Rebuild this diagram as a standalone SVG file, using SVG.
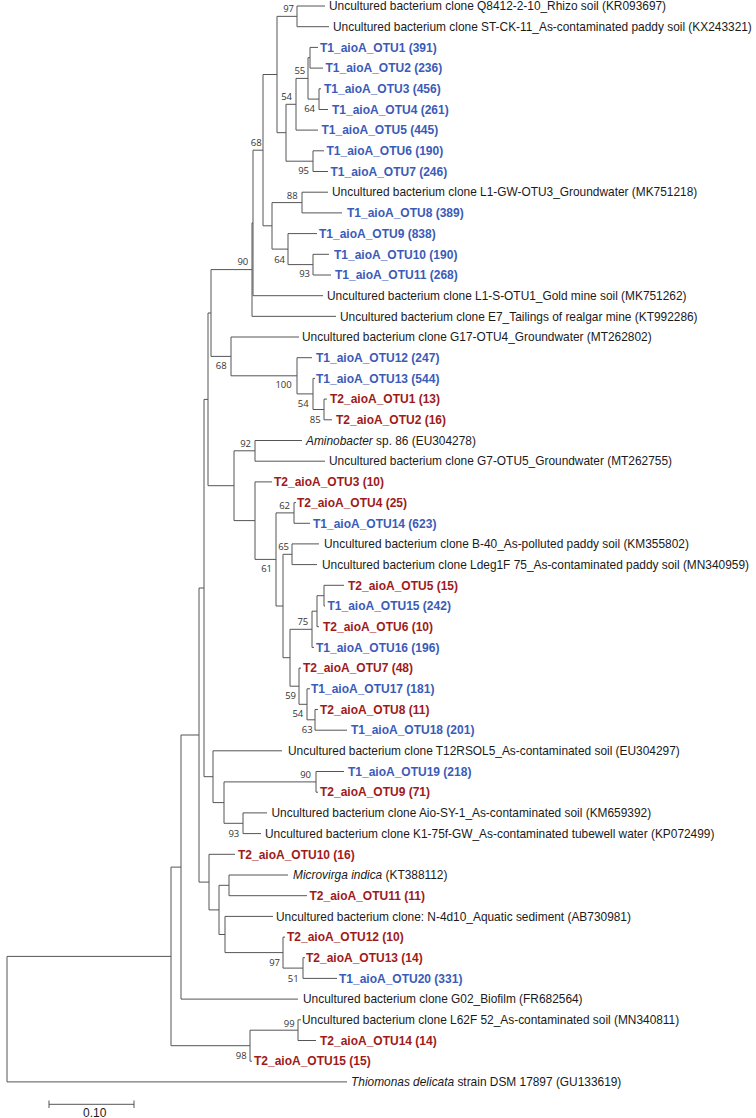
<svg xmlns="http://www.w3.org/2000/svg" width="756" height="1118" viewBox="0 0 756 1118">
<style>
.lab{font-family:"Liberation Sans",Arial,sans-serif;font-size:11.9px;fill:#1a1a1a}
.t1{font-family:"Liberation Sans",Arial,sans-serif;font-size:12px;font-weight:bold;fill:#3b5bb8}
.t2{font-family:"Liberation Sans",Arial,sans-serif;font-size:12px;font-weight:bold;fill:#9e1b1b}
.it{font-style:italic}
.bs{font-family:"Open Sans","Liberation Sans",sans-serif;font-size:9.5px;fill:#333;text-anchor:end}
.br{fill:none;stroke:#555;stroke-width:1}
</style>
<rect x="0" y="0" width="756" height="1118" fill="#fff"/>
<g id="connectors" class="br">
<path d="M7 956.4V1081.9M7 956.4H171M7 1081.9H347"/>
<path d="M171 867.1V1045.7M171 867.1H181M171 1045.7H250"/>
<path d="M250 1030.2V1061.2M250 1030.2H298M250 1061.2H252"/>
<path d="M298 1019.8V1040.5M298 1019.8H301M298 1040.5H316"/>
<path d="M181 735V999.1M181 735H199M181 999.1H298"/>
<path d="M199 588V882.1M199 588H204M199 882.1H209"/>
<path d="M209 854.3V909.9M209 854.3H235M209 909.9H219"/>
<path d="M219 885.3V934.5M219 885.3H229M219 934.5H225"/>
<path d="M229 875V895.7M229 875H288M229 895.7H307"/>
<path d="M225 916.4V952.6M225 916.4H273M225 952.6H283"/>
<path d="M283 937.1V968.1M283 937.1H285M283 968.1H303"/>
<path d="M303 957.7V978.4M303 957.7H305M303 978.4H337"/>
<path d="M204 399.4V776.7M204 399.4H208M204 776.7H213"/>
<path d="M213 750.8V802.6M213 750.8H282M213 802.6H224"/>
<path d="M224 781.9V823.3M224 781.9H316M224 823.3H243"/>
<path d="M316 771.5V792.2M316 771.5H344M316 792.2H318"/>
<path d="M243 812.9V833.6M243 812.9H267M243 833.6H261"/>
<path d="M208 313V485.7M208 313H211M208 485.7H234"/>
<path d="M234 450.8V520.6M234 450.8H255M234 520.6H255"/>
<path d="M255 440.5V461.2M255 440.5H302M255 461.2H325"/>
<path d="M255 481.9V559.4M255 481.9H272M255 559.4H276"/>
<path d="M276 512.9V606M276 512.9H294M276 606H283"/>
<path d="M294 502.6V523.3M294 502.6H296M294 523.3H310"/>
<path d="M283 554.3V657.7M283 554.3H292M283 657.7H290"/>
<path d="M292 543.9V564.6M292 543.9H319M292 564.6H317"/>
<path d="M290 629.3V686.2M290 629.3H312M290 686.2H299"/>
<path d="M312 611.2V647.4M312 611.2H317M312 647.4H314"/>
<path d="M317 595.7V626.7M317 595.7H324M317 626.7H319"/>
<path d="M324 585.3V606M324 585.3H344M324 606H325"/>
<path d="M299 668.1V704.3M299 668.1H301M299 704.3H307"/>
<path d="M307 688.8V719.8M307 688.8H310M307 719.8H315"/>
<path d="M315 709.5V730.2M315 709.5H318M315 730.2H347"/>
<path d="M211 269.6V356.4M211 269.6H252M211 356.4H231"/>
<path d="M231 337V375.8M231 337H299M231 375.8H297"/>
<path d="M297 357.7V393.9M297 357.7H312M297 393.9H313"/>
<path d="M313 378.4V409.5M313 378.4H315M313 409.5H324"/>
<path d="M324 399.1V419.8M324 399.1H327M324 419.8H332"/>
<path d="M252 222.9V316.35M252 222.9H253M252 316.35H336"/>
<path d="M253 150.2V295.7M253 150.2H263M253 295.7H323"/>
<path d="M263 74.5V225.8M263 74.5H277M263 225.8H272"/>
<path d="M272 202.6V249.1M272 202.6H302M272 249.1H288"/>
<path d="M302 192.2V212.9M302 192.2H328M302 212.9H342"/>
<path d="M288 233.6V264.6M288 233.6H317M288 264.6H313"/>
<path d="M313 254.3V275M313 254.3H329M313 275H331"/>
<path d="M277 16.35V132.7M277 16.35H297M277 132.7H286"/>
<path d="M297 6V26.7M297 6H325M297 26.7H329"/>
<path d="M286 104.3V161.2M286 104.3H296M286 161.2H313"/>
<path d="M296 78.4V130.1M296 78.4H308M296 130.1H318"/>
<path d="M308 57.7V99.1M308 57.7H310M308 99.1H319"/>
<path d="M310 47.4V68.1M310 47.4H318M310 68.1H323"/>
<path d="M319 88.8V109.5M319 88.8H321M319 109.5H328"/>
<path d="M313 150.8V171.5M313 150.8H324M313 171.5H328"/>
</g>
<g id="bootstrap">
<text class="bs" x="294" y="12.3">97</text>
<text class="bs" x="305.3" y="74.3">55</text>
<text class="bs" x="292" y="100">54</text>
<text class="bs" x="315" y="112.3">64</text>
<text class="bs" x="309" y="174.3">95</text>
<text class="bs" x="261.7" y="146">68</text>
<text class="bs" x="297.7" y="199">88</text>
<text class="bs" x="285" y="262.7">64</text>
<text class="bs" x="310" y="276.7">93</text>
<text class="bs" x="248.3" y="265">90</text>
<text class="bs" x="226.7" y="369.3">68</text>
<text class="bs" x="291.7" y="388.3">100</text>
<text class="bs" x="308.7" y="406.7">54</text>
<text class="bs" x="320.7" y="422.7">85</text>
<text class="bs" x="251" y="446.7">92</text>
<text class="bs" x="290" y="509">62</text>
<text class="bs" x="289" y="550">65</text>
<text class="bs" x="272" y="572.3">61</text>
<text class="bs" x="308.3" y="625">75</text>
<text class="bs" x="296" y="699.3">59</text>
<text class="bs" x="303.3" y="716.7">54</text>
<text class="bs" x="312.7" y="733.3">63</text>
<text class="bs" x="311" y="777.7">90</text>
<text class="bs" x="239.3" y="836.7">93</text>
<text class="bs" x="280" y="965.7">97</text>
<text class="bs" x="298.7" y="982.3">51</text>
<text class="bs" x="294.7" y="1026.7">99</text>
<text class="bs" x="246.7" y="1059">98</text>
</g>
<g id="leaf-KR093697"><text class="lab" x="329" y="10.2">Uncultured bacterium clone Q8412-2-10_Rhizo soil (KR093697)</text></g>
<g id="leaf-KX243321"><text class="lab" x="333" y="30.9">Uncultured bacterium clone ST-CK-11_As-contaminated paddy soil (KX243321)</text></g>
<g id="leaf-T1-OTU1"><text class="t1" x="320" y="51.6">T1_aioA_OTU1 (391)</text></g>
<g id="leaf-T1-OTU2"><text class="t1" x="325.5" y="72.3">T1_aioA_OTU2 (236)</text></g>
<g id="leaf-T1-OTU3"><text class="t1" x="324" y="93">T1_aioA_OTU3 (456)</text></g>
<g id="leaf-T1-OTU4"><text class="t1" x="332" y="113.7">T1_aioA_OTU4 (261)</text></g>
<g id="leaf-T1-OTU5"><text class="t1" x="321.5" y="134.3">T1_aioA_OTU5 (445)</text></g>
<g id="leaf-T1-OTU6"><text class="t1" x="326.5" y="155">T1_aioA_OTU6 (190)</text></g>
<g id="leaf-T1-OTU7"><text class="t1" x="330.5" y="175.7">T1_aioA_OTU7 (246)</text></g>
<g id="leaf-MK751218"><text class="lab" x="332" y="196.4">Uncultured bacterium clone L1-GW-OTU3_Groundwater (MK751218)</text></g>
<g id="leaf-T1-OTU8"><text class="t1" x="347" y="217.1">T1_aioA_OTU8 (389)</text></g>
<g id="leaf-T1-OTU9"><text class="t1" x="319" y="237.8">T1_aioA_OTU9 (838)</text></g>
<g id="leaf-T1-OTU10"><text class="t1" x="334" y="258.5">T1_aioA_OTU10 (190)</text></g>
<g id="leaf-T1-OTU11"><text class="t1" x="335" y="279.2">T1_aioA_OTU11 (268)</text></g>
<g id="leaf-MK751262"><text class="lab" x="327" y="299.9">Uncultured bacterium clone L1-S-OTU1_Gold mine soil (MK751262)</text></g>
<g id="leaf-KT992286"><text class="lab" x="340" y="320.6">Uncultured bacterium clone E7_Tailings of realgar mine (KT992286)</text></g>
<g id="leaf-MT262802"><text class="lab" x="302" y="341.2">Uncultured bacterium clone G17-OTU4_Groundwater (MT262802)</text></g>
<g id="leaf-T1-OTU12"><text class="t1" x="316" y="361.9">T1_aioA_OTU12 (247)</text></g>
<g id="leaf-T1-OTU13"><text class="t1" x="316" y="382.6">T1_aioA_OTU13 (544)</text></g>
<g id="leaf-T2-OTU1"><text class="t2" x="330" y="403.3">T2_aioA_OTU1 (13)</text></g>
<g id="leaf-T2-OTU2"><text class="t2" x="336" y="424">T2_aioA_OTU2 (16)</text></g>
<g id="leaf-EU304278"><text class="lab" x="306" y="444.7"><tspan class="it">Aminobacter</tspan> sp. 86 (EU304278)</text></g>
<g id="leaf-MT262755"><text class="lab" x="329" y="465.4">Uncultured bacterium clone G7-OTU5_Groundwater (MT262755)</text></g>
<g id="leaf-T2-OTU3"><text class="t2" x="274" y="486.1">T2_aioA_OTU3 (10)</text></g>
<g id="leaf-T2-OTU4"><text class="t2" x="297" y="506.8">T2_aioA_OTU4 (25)</text></g>
<g id="leaf-T1-OTU14"><text class="t1" x="313" y="527.5">T1_aioA_OTU14 (623)</text></g>
<g id="leaf-KM355802"><text class="lab" x="324" y="548.1">Uncultured bacterium clone B-40_As-polluted paddy soil (KM355802)</text></g>
<g id="leaf-MN340959"><text class="lab" x="322" y="568.8">Uncultured bacterium clone Ldeg1F 75_As-contaminated paddy soil (MN340959)</text></g>
<g id="leaf-T2-OTU5"><text class="t2" x="348" y="589.5">T2_aioA_OTU5 (15)</text></g>
<g id="leaf-T1-OTU15"><text class="t1" x="327.5" y="610.2">T1_aioA_OTU15 (242)</text></g>
<g id="leaf-T2-OTU6"><text class="t2" x="323" y="630.9">T2_aioA_OTU6 (10)</text></g>
<g id="leaf-T1-OTU16"><text class="t1" x="316" y="651.6">T1_aioA_OTU16 (196)</text></g>
<g id="leaf-T2-OTU7"><text class="t2" x="303" y="672.3">T2_aioA_OTU7 (48)</text></g>
<g id="leaf-T1-OTU17"><text class="t1" x="311" y="693">T1_aioA_OTU17 (181)</text></g>
<g id="leaf-T2-OTU8"><text class="t2" x="320" y="713.7">T2_aioA_OTU8 (11)</text></g>
<g id="leaf-T1-OTU18"><text class="t1" x="351" y="734.4">T1_aioA_OTU18 (201)</text></g>
<g id="leaf-EU304297"><text class="lab" x="288" y="755">Uncultured bacterium clone T12RSOL5_As-contaminated soil (EU304297)</text></g>
<g id="leaf-T1-OTU19"><text class="t1" x="348" y="775.7">T1_aioA_OTU19 (218)</text></g>
<g id="leaf-T2-OTU9"><text class="t2" x="320" y="796.4">T2_aioA_OTU9 (71)</text></g>
<g id="leaf-KM659392"><text class="lab" x="271.5" y="817.1">Uncultured bacterium clone Aio-SY-1_As-contaminated soil (KM659392)</text></g>
<g id="leaf-KP072499"><text class="lab" x="265" y="837.8">Uncultured bacterium clone K1-75f-GW_As-contaminated tubewell water (KP072499)</text></g>
<g id="leaf-T2-OTU10"><text class="t2" x="238" y="858.5">T2_aioA_OTU10 (16)</text></g>
<g id="leaf-KT388112"><text class="lab" x="293" y="879.2"><tspan class="it">Microvirga indica</tspan> (KT388112)</text></g>
<g id="leaf-T2-OTU11"><text class="t2" x="309.5" y="899.9">T2_aioA_OTU11 (11)</text></g>
<g id="leaf-AB730981"><text class="lab" x="276" y="920.6">Uncultured bacterium clone: N-4d10_Aquatic sediment (AB730981)</text></g>
<g id="leaf-T2-OTU12"><text class="t2" x="287" y="941.3">T2_aioA_OTU12 (10)</text></g>
<g id="leaf-T2-OTU13"><text class="t2" x="306" y="961.9">T2_aioA_OTU13 (14)</text></g>
<g id="leaf-T1-OTU20"><text class="t1" x="339" y="982.6">T1_aioA_OTU20 (331)</text></g>
<g id="leaf-FR682564"><text class="lab" x="303" y="1003.3">Uncultured bacterium clone G02_Biofilm (FR682564)</text></g>
<g id="leaf-MN340811"><text class="lab" x="302" y="1024">Uncultured bacterium clone L62F 52_As-contaminated soil (MN340811)</text></g>
<g id="leaf-T2-OTU14"><text class="t2" x="320" y="1044.7">T2_aioA_OTU14 (14)</text></g>
<g id="leaf-T2-OTU15"><text class="t2" x="254" y="1065.4">T2_aioA_OTU15 (15)</text></g>
<g id="leaf-GU133619"><text class="lab" x="351" y="1086.1"><tspan class="it">Thiomonas delicata</tspan> strain DSM 17897 (GU133619)</text></g>
<g id="scale-bar">
<path class="br" d="M49 1104.3H134M49 1100.5V1108M134 1100.5V1108"/>
<text class="lab" x="83" y="1117" style="font-size:12px">0.10</text>
</g>
</svg>
